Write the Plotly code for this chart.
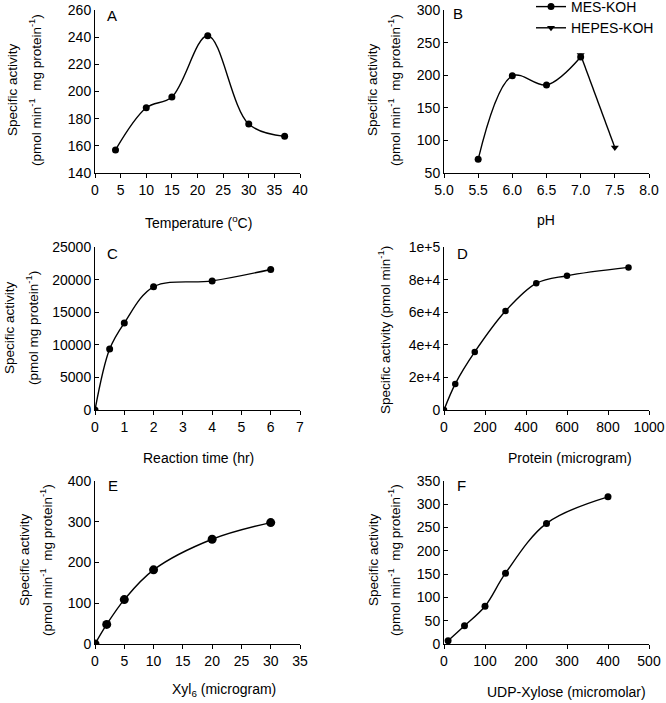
import plotly.graph_objects as go

# panel A - temperature
temp = [4, 10, 15, 22, 30, 37]
temp_act = [157, 188, 196, 241, 176, 167]

# panel B - pH, two buffers
ph_mes = [5.5, 6.0, 6.5, 7.0]
act_mes = [71, 199, 185, 228]
ph_hepes = [7.0, 7.5]
act_hepes = [231, 89]

# panel C - reaction time
time_hr = [0, 0.5, 1, 2, 4, 6]
time_act = [0, 9350, 13350, 18900, 19800, 21550]

# panel D - protein amount
protein = [0, 55, 150, 300, 450, 600, 900]
protein_act = [0, 16000, 35600, 60700, 77700, 82400, 87500]

# panel E - Xyl6 acceptor
xyl6 = [0, 2, 5, 10, 20, 30]
xyl6_act = [0, 48, 109, 182, 257, 298]

# panel F - UDP-xylose
udp = [10, 50, 100, 150, 250, 400]
udp_act = [7, 39, 81, 152, 259, 316]

d_ticks = [0, 20000, 40000, 60000, 80000, 100000]
d_ticktext = ["0", "2e+4", "4e+4", "6e+4", "8e+4", "1e+5"]

W, H = 666, 703
FONT = "Liberation Sans, Arial, sans-serif"
FS = 14


def px(x):
    return x / W


def py(y):
    return 1 - y / H


fig = go.Figure()


def add(x, y, n, size=7, symbol="circle", name=None, shape="spline", legend=False):
    ax = "" if n == 1 else str(n)
    fig.add_trace(go.Scatter(
        x=x, y=y, mode="lines+markers", name=name, showlegend=legend,
        xaxis="x" + ax, yaxis="y" + ax,
        line=dict(color="black", width=1.4, shape=shape, smoothing=1.0),
        marker=dict(color="black", size=size, symbol=symbol),
    ))


add(temp, temp_act, 1)
add(ph_hepes, act_hepes, 2, size=7, symbol="triangle-down", name="HEPES-KOH",
    shape="linear", legend=True)
add(ph_mes, act_mes, 2, name="MES-KOH", legend=True)
add(time_hr, time_act, 3)
add(protein, protein_act, 4, size=6.5)
add(xyl6, xyl6_act, 5, size=9)
add(udp, udp_act, 6)

# plot areas in pixels: (left, right, top, bottom)
boxes = {
    1: (95, 300, 10, 173), 2: (444, 649, 10, 173),
    3: (95, 300, 247, 410), 4: (444, 649, 247, 410),
    5: (95, 300, 481, 644), 6: (444, 649, 481, 644),
}
xranges = {1: [0, 40], 2: [5.0, 8.0], 3: [0, 7], 4: [0, 1000], 5: [0, 35], 6: [0, 500]}
xdtick = {1: 5, 2: 0.5, 3: 1, 4: 200, 5: 5, 6: 100}
yranges = {1: [140, 260], 2: [50, 300], 3: [0, 25000], 4: [0, 100000], 5: [0, 400], 6: [0, 350]}
ydtick = {1: 20, 2: 50, 3: 5000, 4: 20000, 5: 100, 6: 50}

axis_common = dict(showline=True, linecolor="black", linewidth=1, showgrid=False,
                   zeroline=False, ticklen=4, tickcolor="black", tickwidth=1,
                   automargin=False, tickfont=dict(size=FS, color="black"))

for n, (l, r, t, b) in boxes.items():
    ax = "" if n == 1 else str(n)
    xa = dict(axis_common, domain=[px(l), px(r)], range=xranges[n], dtick=xdtick[n],
              ticks="outside", anchor="y" + ax)
    if n == 2:
        xa["tickformat"] = ".1f"
    ya = dict(axis_common, domain=[py(b), py(t)], range=yranges[n],
              dtick=ydtick[n], ticks="inside", anchor="x" + ax, tickformat="d")
    if n == 4:
        ya["tickvals"] = d_ticks
        ya["ticktext"] = d_ticktext
    fig.update_layout(**{"xaxis" + ax: xa, "yaxis" + ax: ya})

ann = []


def text(x, y, s, angle=0, size=FS):
    ann.append(dict(x=px(x), y=py(y), xref="paper", yref="paper", text=s,
                    showarrow=False, textangle=angle, xanchor="center", yanchor="middle",
                    font=dict(size=size, color="black")))


line1 = "Specific activity"
line2 = "(pmol min<sup>-1</sup>  mg protein<sup>-1</sup>)"

# x titles
text(198, 222, "Temperature (<sup>o</sup>C)")
text(546, 220, "pH")
text(198, 458, "Reaction time (hr)")
text(570, 458, "Protein (microgram)")
text(224, 690, "Xyl<sub>6</sub> (microgram)")
text(566, 692, "UDP-Xylose (micromolar)")

# y titles (two separate lines, rotated)
for x1, x2, yc, l2 in [(13, 35, 90, line2), (373, 394, 90, line2),
                       (10, 32, 328, "(pmol mg protein<sup>-1</sup>)"),
                       (24, 46, 560, line2), (373, 394, 560, line2)]:
    text(x1, yc, line1, angle=-90, size=13.5)
    text(x2, yc, l2, angle=-90, size=13.5)
text(384, 330, "Specific activity (pmol min<sup>-1</sup>)", angle=-90, size=13.5)

# panel letters
for lab, x, y in [("A", 112, 15), ("B", 458, 13), ("C", 112, 253),
                  ("D", 462, 253), ("E", 113, 485), ("F", 461, 485)]:
    text(x, y, lab, size=15)

fig.update_layout(
    width=W, height=H,
    margin=dict(l=0, r=0, t=0, b=0, autoexpand=False),
    paper_bgcolor="white", plot_bgcolor="white",
    font=dict(family=FONT, size=FS, color="black"),
    annotations=ann,
    legend=dict(x=px(531), y=py(-9), xanchor="left", yanchor="top",
                traceorder="reversed", font=dict(size=FS), bgcolor="rgba(0,0,0,0)",
                tracegroupgap=0, itemwidth=30),
)

# drop the default 8px page margin so the figure fills the window
fig.write_html("out.html", config={"displayModeBar": False},
               post_script="document.body.style.margin='0';")
